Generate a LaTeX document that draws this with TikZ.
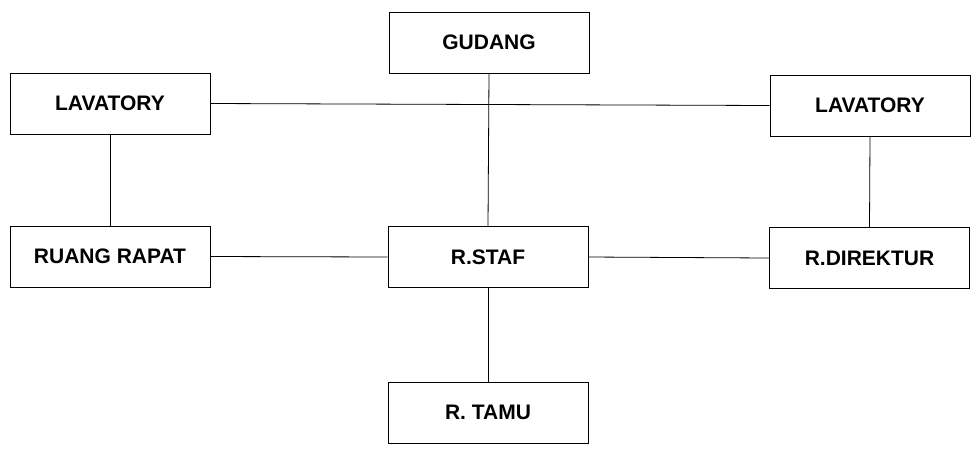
\documentclass[tikz,border=0pt]{standalone}
\usepackage{fontspec}
\setmainfont{Liberation Sans}
\begin{document}
\begin{tikzpicture}[x=1pt,y=-1pt,
  room/.style={draw, line width=0.9pt, minimum width=200pt, minimum height=61pt, inner sep=0pt, font=\fontsize{21}{25}\selectfont\bfseries},
  link/.style={line width=0.8pt}]
\useasboundingbox (0,0) rectangle (979,451);
\node[room] (gud) at (489,42.5) {GUDANG};
\node[room] (lavl) at (110,103.5) {LAVATORY};
\node[room] (lavr) at (870,105.5) {LAVATORY};
\node[room] (rapat) at (110,256.5) {RUANG RAPAT};
\node[room] (staf) at (488,257) {R.STAF};
\node[room] (dir) at (869.5,258) {R.DIREKTUR};
\node[room] (tamu) at (488,412.5) {R. TAMU};
\draw[link] (lavl.east) -- (lavr.west);
\draw[link] (gud.south) -- (staf.north);
\draw[link] (lavl.south) -- (rapat.north);
\draw[link] (lavr.south) -- (dir.north);
\draw[link] (rapat.east) -- (staf.west);
\draw[link] (staf.east) -- (dir.west);
\draw[link] (staf.south) -- (tamu.north);
\end{tikzpicture}
\end{document}
